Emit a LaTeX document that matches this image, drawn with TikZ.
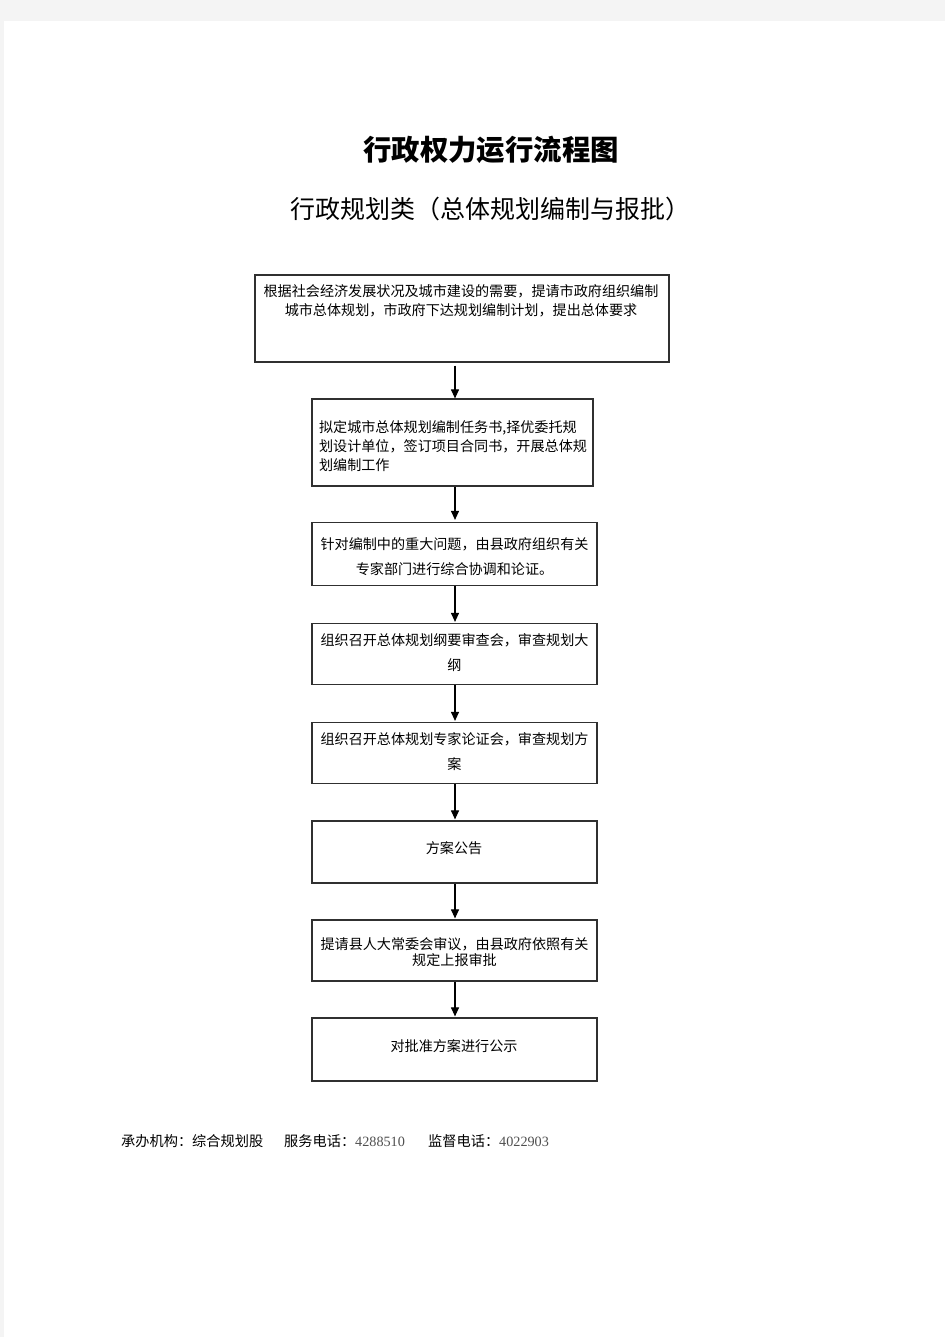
\documentclass[tikz,border=0pt]{standalone}
\usepackage{fontspec}
\setmainfont{Noto Sans CJK SC}
\newfontfamily\numfont{Liberation Serif}
\usetikzlibrary{arrows.meta}
\definecolor{pagegrey}{HTML}{F4F4F4}
\definecolor{boxline}{HTML}{303030}
\definecolor{numgrey}{HTML}{505050}
\tikzset{
  box/.style={draw=boxline, line width=1.2pt, rectangle, inner sep=0pt},
  txt/.style={inner sep=0pt, font=\fontsize{14.1}{19}\selectfont, align=center},
  arr/.style={draw=black, line width=1.1pt, -{Triangle[length=9pt,width=8pt]}},
}
\begin{document}
\begin{tikzpicture}[x=1pt,y=-1pt]
\useasboundingbox (0,0) rectangle (945,1337);
\fill[pagegrey] (0,0) rectangle (945,1337);
\fill[white] (4,21) rectangle (945,1337);

\node[inner sep=0pt, font=\fontsize{28.4}{30}\selectfont\bfseries] (title) at (491,150) {行政权力运行流程图};
\node[inner sep=0pt, font=\fontsize{25}{27}\selectfont] (sub) at (490,209) {行政规划类（总体规划编制与报批）};

% boxes
\node[box, minimum width=414pt, minimum height=87pt] (b1) at (462,318.5) {};
\node[txt] (t1) at (461,300.5) {根据社会经济发展状况及城市建设的需要，提请市政府组织编制\\城市总体规划，市政府下达规划编制计划，提出总体要求};

\node[box, minimum width=281pt, minimum height=87pt] (b2) at (452.5,442.5) {};
\node[txt, align=left] (t2) at (453,446) {拟定城市总体规划编制任务书,择优委托规\\划设计单位，签订项目合同书，开展总体规\\划编制工作};

\node[box, minimum width=285pt, minimum height=63pt] (b3) at (454.5,554) {};
\node[txt, font=\fontsize{14.1}{25}\selectfont] (t3) at (454.5,556.5) {针对编制中的重大问题，由县政府组织有关\\专家部门进行综合协调和论证。};

\node[box, minimum width=285pt, minimum height=61pt] (b4) at (454.5,654) {};
\draw[boxline, line width=1.2pt] (b4.south west) ++(0,-0.8) -- ([yshift=0.8pt]b4.south east);
\node[txt, font=\fontsize{14.1}{25}\selectfont] (t4) at (454.5,652.5) {组织召开总体规划纲要审查会，审查规划大\\纲};

\node[box, minimum width=285pt, minimum height=61pt] (b5) at (454.5,753) {};
\node[txt, font=\fontsize{14.1}{25}\selectfont] (t5) at (454.5,751.5) {组织召开总体规划专家论证会，审查规划方\\案};

\node[box, minimum width=285pt, minimum height=62pt] (b6) at (454.5,852) {};
\node[txt] (t6) at (454,848) {方案公告};

\node[box, minimum width=285pt, minimum height=61pt] (b7) at (454.5,950.5) {};
\node[txt, font=\fontsize{14.1}{16}\selectfont] (t7) at (454.5,952) {提请县人大常委会审议，由县政府依照有关\\规定上报审批};

\node[box, minimum width=285pt, minimum height=63pt] (b8) at (454.5,1049.5) {};
\node[txt] (t8) at (454,1046) {对批准方案进行公示};

% arrows
\draw[arr] ([yshift=-3pt]b1.south -| 455,0) -- (b2.north -| 455,0);
\draw[arr] (b2.south -| 455,0) -- ([yshift=2pt]b3.north -| 455,0);
\draw[arr] (b3.south -| 455,0) -- ([yshift=1pt]b4.north -| 455,0);
\draw[arr] (b4.south -| 455,0) -- ([yshift=1pt]b5.north -| 455,0);
\draw[arr] (b5.south -| 455,0) -- ([yshift=1pt]b6.north -| 455,0);
\draw[arr] (b6.south -| 455,0) -- ([yshift=1pt]b7.north -| 455,0);
\draw[arr] (b7.south -| 455,0) -- ([yshift=1pt]b8.north -| 455,0);

% footer
\node[anchor=west, inner sep=0pt, font=\fontsize{14.2}{16}\selectfont] (f1) at (121,1141) {承办机构：综合规划股};
\node[anchor=west, inner sep=0pt, font=\fontsize{14.2}{16}\selectfont] (f2) at (284,1141) {服务电话：{\numfont\color{numgrey}4288510}};
\node[anchor=west, inner sep=0pt, font=\fontsize{14.2}{16}\selectfont] (f3) at (428,1141) {监督电话：{\numfont\color{numgrey}4022903}};
\end{tikzpicture}
\end{document}
